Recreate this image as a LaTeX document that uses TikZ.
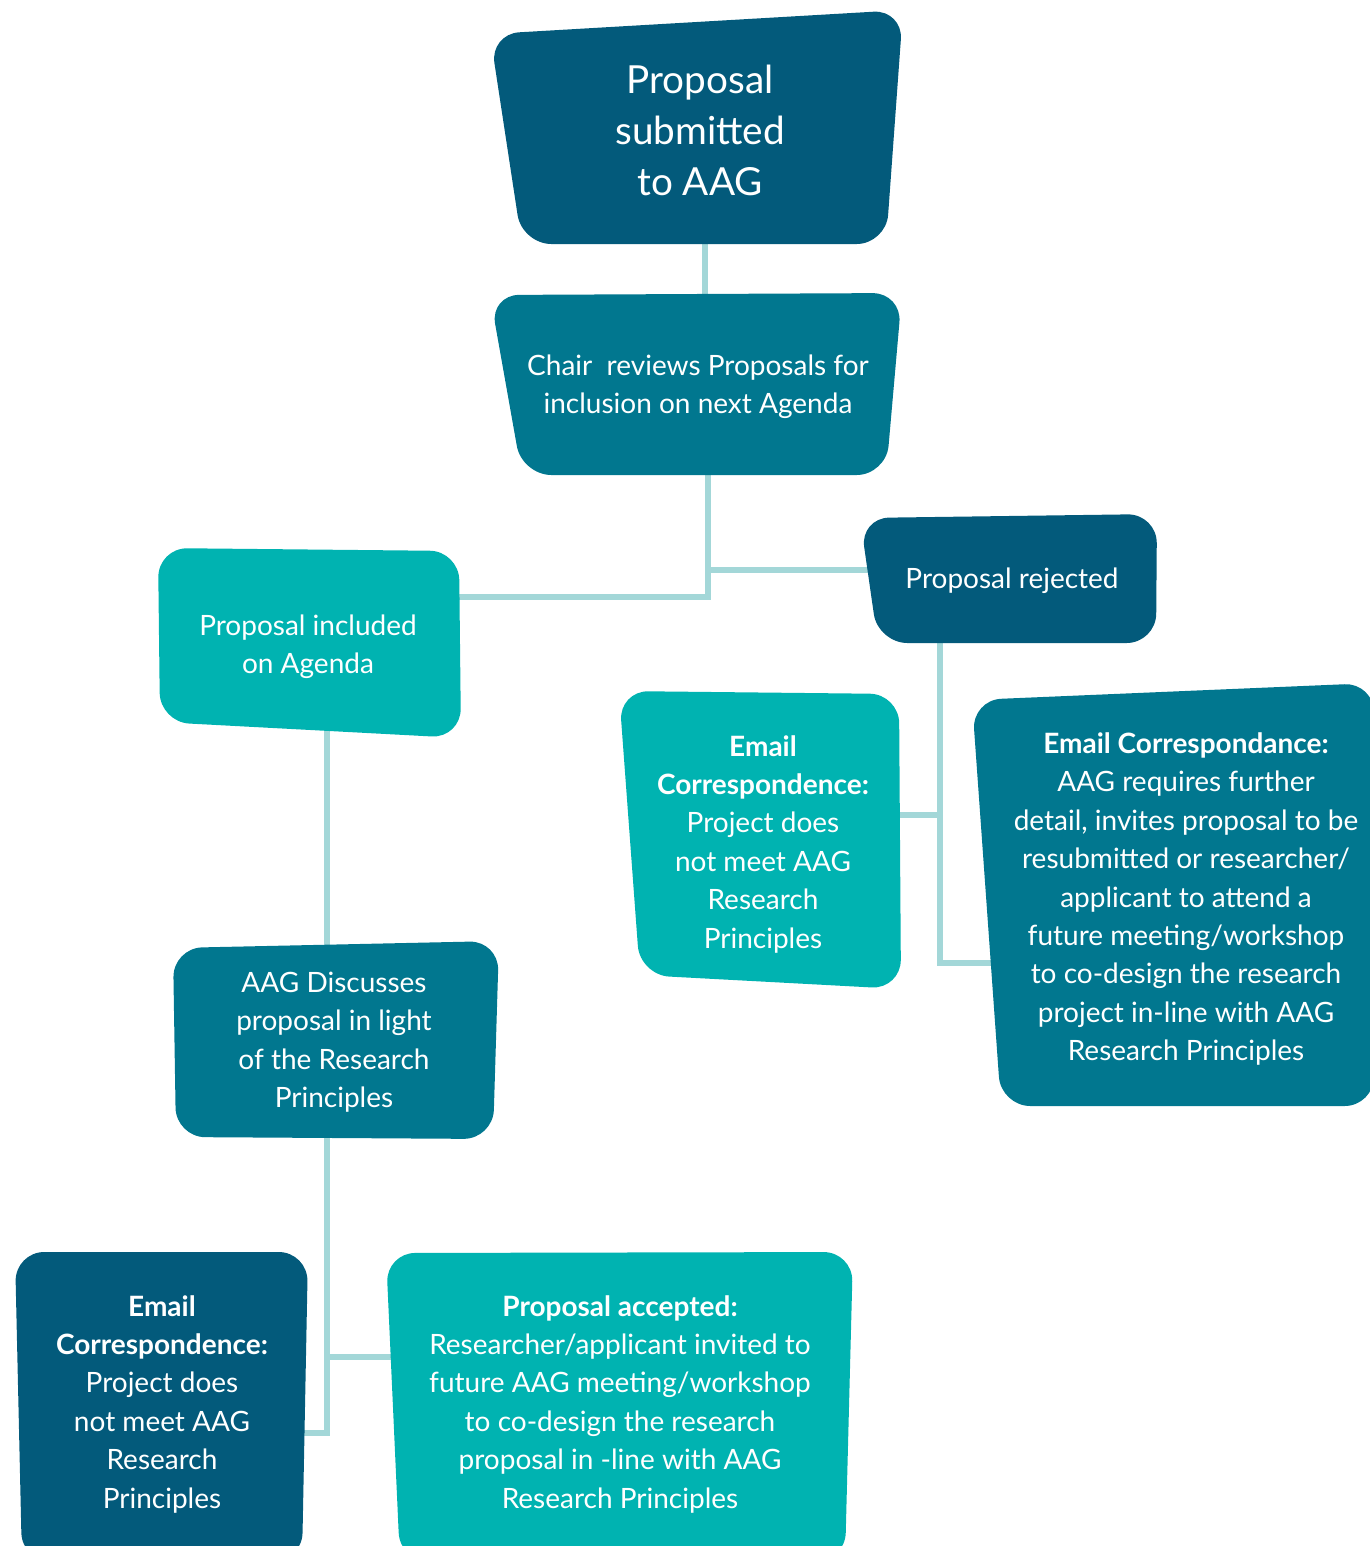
\documentclass[tikz,border=0pt]{standalone}
\usepackage{fontspec}
\setmainfont{Lato}
\definecolor{cdark}{HTML}{035A7B}
\definecolor{cmid}{HTML}{01778F}
\definecolor{cteal}{HTML}{00B3B1}
\definecolor{cline}{HTML}{A3D7D8}
\begin{document}
\begin{tikzpicture}[x=0.75pt,y=-0.75pt,
  shp/.style={rounded corners=22pt},
  lbl/.style={text=white, align=center, inner sep=0pt, font=\fontsize{21}{28.8}\selectfont},
  big/.style={text=white, align=center, inner sep=0pt, font=\fontsize{29}{38.3}\selectfont},
  conn/.style={draw=cline, line width=4.5pt}]
\useasboundingbox (0,0) rectangle (1370,1546);

% connection points
\coordinate (b1s) at (705,240);
\coordinate (b2n) at (705,300);
\coordinate (b2s) at (708,470);
\coordinate (j2a) at (708,570);
\coordinate (j2b) at (708,597);
\coordinate (b3w) at (870,570);
\coordinate (b4e) at (455,597);
\coordinate (b4s) at (327,730);
\coordinate (b7n) at (327,950);
\coordinate (b3s) at (940,640);
\coordinate (j3a) at (940,815);
\coordinate (j3b) at (940,963);
\coordinate (b5e) at (895,815);
\coordinate (b6w) at (1000,963);
\coordinate (b7s) at (327,1135);
\coordinate (j7a) at (327,1357);
\coordinate (j7b) at (327,1433);
\coordinate (b9w) at (395,1357);
\coordinate (b8e) at (300,1433);

% connectors
\draw[conn] (b1s) -- (b2n);
\draw[conn] (b2s) -- (j2b) -- (b4e);
\draw[conn] (j2a) -- (b3w);
\draw[conn] (b4s) -- (b7n);
\draw[conn] (b3s) -- (j3b) -- (b6w);
\draw[conn] (b5e) -- (j3a);
\draw[conn] (b7s) -- (j7b) -- (b8e);
\draw[conn] (j7a) -- (b9w);

% shapes
\fill[cdark, shp] (490,34) -- (903,10) -- (886,244) -- (522,244) -- cycle;
\fill[cmid, shp] (490,295) -- (902,293) -- (886,475) -- (522,475) -- cycle;
\fill[cdark, shp] (860,518) -- (1157,514) -- (1156,643) -- (878,643) -- cycle;
\fill[cteal, shp] (158,548) -- (459,551) -- (461,738) -- (160,722) -- cycle;
\fill[cteal, shp] (619,691) -- (899,694) -- (901,989) -- (640,975) -- cycle;
\fill[cmid, shp] (972,700) -- (1374,683) -- (1374,1106) -- (1001,1106) -- cycle;
\fill[cmid, shp] (173,948) -- (499,941) -- (493,1139) -- (176,1137) -- cycle;
\fill[cdark, shp] (15,1252) -- (308,1252) -- (302,1562) -- (22,1562) -- cycle;
\fill[cteal, shp] (386,1253) -- (853,1252) -- (845,1562) -- (400,1562) -- cycle;

% labels
\node[big] (t1) at (700,130) {Proposal\\submitted\\to AAG};
\node[lbl] (t2) at (698,387) {Chair\ \ reviews Proposals for\\inclusion on next Agenda};
\node[lbl] (t3) at (1012,581) {Proposal rejected};
\node[lbl] (t4) at (308,647) {Proposal included\\on Agenda};
\node[lbl] (t5) at (763,844) {\textbf{Email}\\\textbf{Correspondence:}\\Project does\\not meet AAG\\Research\\Principles};
\node[lbl] (t6) at (1186,899) {\textbf{Email Correspondance:}\\AAG requires further\\detail, invites proposal to be\\resubmitted or researcher/\\applicant to attend a\\future meeting/workshop\\to co-design the research\\project in-line with AAG\\Research Principles};
\node[lbl] (t7) at (334,1042) {AAG Discusses\\proposal in light\\of the Research\\Principles};
\node[lbl] (t8) at (162,1404) {\textbf{Email}\\\textbf{Correspondence:}\\Project does\\not meet AAG\\Research\\Principles};
\node[lbl] (t9) at (620,1404) {\textbf{Proposal accepted:}\\Researcher/applicant invited to\\future AAG meeting/workshop\\to co-design the research\\proposal in -line with AAG\\Research Principles};
\end{tikzpicture}
\end{document}
